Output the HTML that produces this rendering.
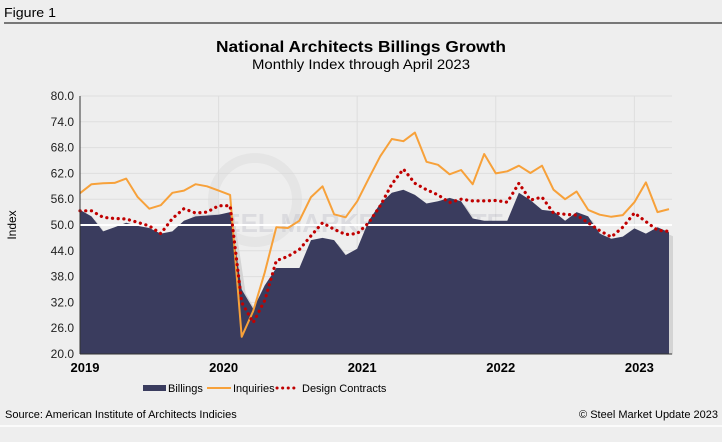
<!DOCTYPE html>
<html><head><meta charset="utf-8">
<style>
body{margin:0;background:#eeeeee;font-family:"Liberation Sans",Arial,sans-serif;}
svg{display:block}
</style></head>
<body>
<svg id="chart" width="722" height="442" viewBox="0 0 722 442">
<rect x="0" y="0" width="722" height="442" fill="#eeeeee"/>
<text x="4" y="17" font-size="13" fill="#000" textLength="52" lengthAdjust="spacingAndGlyphs">Figure 1</text>
<line x1="4" y1="23" x2="722" y2="23" stroke="#000" stroke-width="1"/>
<text x="361" y="52" font-size="16" font-weight="bold" text-anchor="middle" textLength="290" lengthAdjust="spacingAndGlyphs">National Architects Billings Growth</text>
<text x="361" y="69" font-size="14" text-anchor="middle" textLength="218" lengthAdjust="spacingAndGlyphs">Monthly Index through April 2023</text>
<text transform="translate(16,225) rotate(-90)" font-size="12" text-anchor="middle">Index</text>
<g id="grid"></g>
<g id="watermark" opacity="0.35">
<circle cx="255" cy="200" r="42" fill="none" stroke="#d6d6d6" stroke-width="10"/>
<text x="190" y="232" font-size="26" font-weight="bold" fill="#3f4468" opacity="0.3">STEEL MARKET UPDATE</text>
<text x="372" y="264" font-size="14" fill="#3f4468" opacity="0.3">part of the       Group</text>
</g>
<g id="series"></g>
<g id="axes"></g>
<g>
<rect x="143" y="385" width="23" height="6" fill="#3a3c5e"/>
<text x="168" y="392" font-size="11">Billings</text>
<line x1="207" y1="388" x2="231" y2="388" stroke="#f7a13a" stroke-width="2"/>
<text x="233" y="392" font-size="11">Inquiries</text>
<line x1="277" y1="388" x2="295" y2="388" stroke="#c00000" stroke-width="3" stroke-linecap="round" stroke-dasharray="0.1 5.5"/>
<text x="302" y="392" font-size="11">Design Contracts</text>
</g>
<text x="5" y="418" font-size="11">Source: American Institute of Architects Indicies</text>
<text x="718" y="418" font-size="11" text-anchor="end">© Steel Market Update 2023</text>
<line x1="0" y1="426" x2="722" y2="426" stroke="#ffffff" stroke-width="1.5"/>
</svg>
<script>
const yTicks = [20, 26, 32, 38, 44, 50, 56, 62, 68, 74, 80];
const yearLabels = ["2019", "2020", "2021", "2022", "2023"];
const billings = [53.5,52,48.5,49.5,50.5,49.8,49.3,48,48.5,51,52,52.2,52.4,53,35,30.5,36,40,40,40,46.5,47,46.5,43,44.5,51,55,57.5,58.2,57,55,55.5,56.3,55.5,51.5,51,51,51,57.5,55.8,53.5,53.2,51,53,52,48,46.8,47.3,49.2,48,49.5,48.3];
const inquiries = [57.4,59.5,59.7,59.8,60.8,56.5,53.8,54.6,57.5,58,59.5,59,58,57,24,30,39,49.5,49.3,51,56.5,59,52.5,51.8,55.5,60.8,66,70,69.5,71.5,64.7,64,61.8,62.8,59.5,66.5,62,62.5,63.8,62.1,63.8,58.2,56,57.8,53.5,52.4,51.9,52.3,55.3,59.9,53,53.7];
const designContracts = [53.3,53.3,51.8,51.5,51.4,50.6,49.8,48,51.5,53.8,52.8,53,54.5,54.5,32,27.3,32.5,41.7,42.7,44.3,47.5,50.5,49,47.8,48,50.5,54.5,59.5,63,59.7,58.2,57,55.2,56,55.6,55.6,55.7,55.3,59.7,55.8,56.5,52.8,52.5,52.3,50.5,48.7,47.2,49.5,52.8,50.8,48.8,48.5];

const NS = "http://www.w3.org/2000/svg";
const L = 80, R = 672, T = 96, B = 354, lastX = 669;
const yMin = 20, yMax = 80;
function yScale(v){ return B - (v - yMin) / (yMax - yMin) * (B - T); }
function xScale(i){ return L + i * (lastX - L) / (billings.length - 1); }
function yearX(j){ return L + j * 12 * (lastX - L) / (billings.length - 1); }
function mk(tag, attrs, parent){ const e = document.createElementNS(NS, tag); for (const k in attrs) e.setAttribute(k, attrs[k]); parent.appendChild(e); return e; }

const grid = document.getElementById("grid");
const axes = document.getElementById("axes");
const series = document.getElementById("series");

yTicks.forEach(function(t){
  const y = yScale(t);
  const gl = mk("line", {x1:L, x2:R, y1:y, y2:y, stroke:"#dedede", "stroke-width":1}, grid);
  
  
  const tl = mk("text", {x:L-6, y:y+4, "font-size":12, "text-anchor":"end", fill:"#222"}, axes);
  tl.textContent = t.toFixed(1);
  
  
});
yearLabels.forEach(function(lbl, j){
  const x = yearX(j);
  if (j > 0) {
    const vl = mk("line", {x1:x, x2:x, y1:T, y2:B, stroke:"#dedede", "stroke-width":1}, grid);
    
    
  }
  const tx = mk("text", {x:x+5, y:372, "font-size":13, "font-weight":"bold", "text-anchor":"middle"}, axes);
  tx.textContent = lbl;
  
  
});

let d = "M" + xScale(0) + "," + B;
billings.forEach(function(v, i){ d += " L" + xScale(i).toFixed(1) + "," + yScale(v).toFixed(1); });
d += " L" + xScale(billings.length - 1) + "," + B + " Z";
const shadow = mk("path", {d:d, fill:"#d4d4d4", transform:"translate(4,4)"}, series);


const cover = mk("rect", {x:L, y:B+0.5, width:R-L+6, height:6, fill:"#eeeeee"}, series);


const area = mk("path", {d:d, fill:"#3a3c5e"}, series);



const fifty = mk("line", {x1:L, x2:R, y1:yScale(50), y2:yScale(50), stroke:"#ffffff", "stroke-width":2}, series);



function poly(arr){ return arr.map(function(v,i){ return xScale(i).toFixed(1) + "," + yScale(v).toFixed(1); }).join(" "); }
const inq = mk("polyline", {points:poly(inquiries), fill:"none", stroke:"#f7a13a", "stroke-width":2, "stroke-linejoin":"round"}, series);


const dc = mk("polyline", {points:poly(designContracts), fill:"none", stroke:"#c00000", "stroke-width":3.2, "stroke-linecap":"round", "stroke-dasharray":"0.1 5.6"}, series);



const ya = mk("line", {x1:L, x2:L, y1:T, y2:B, stroke:"#333", "stroke-width":1}, axes);


const xa = mk("line", {x1:L, x2:R, y1:B, y2:B, stroke:"#333", "stroke-width":1}, axes);


</script>
</body></html>
